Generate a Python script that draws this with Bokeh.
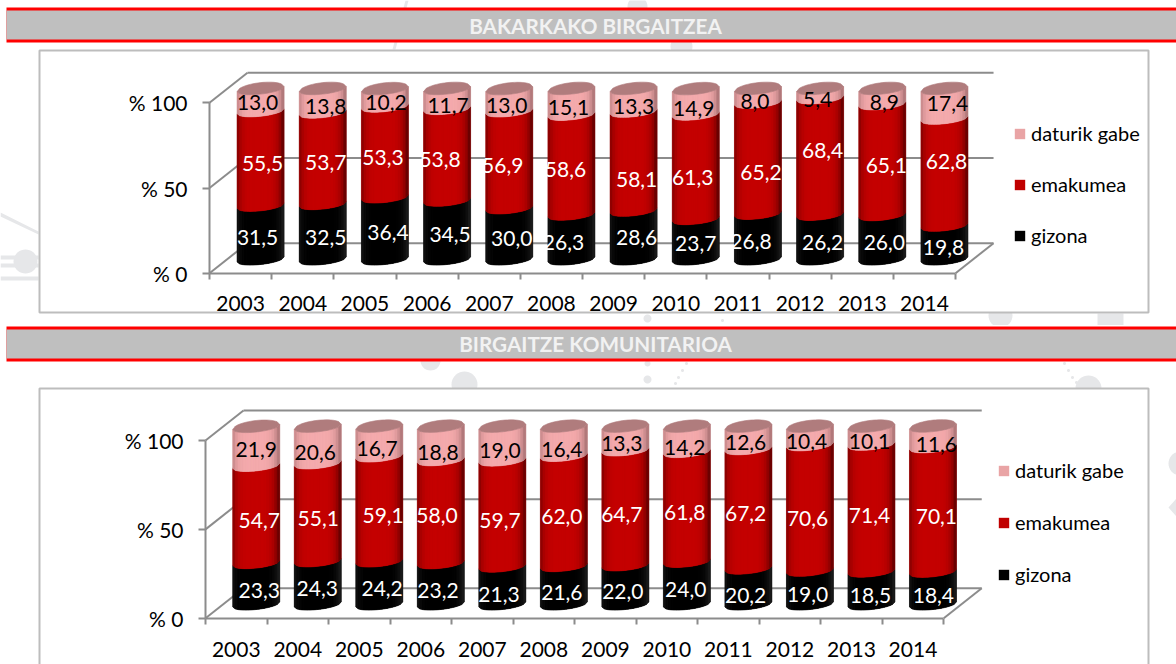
import math
from bokeh.core.properties import value
from bokeh.embed import file_html
from bokeh.layouts import column
from bokeh.models import (BoxAnnotation, ColumnDataSource, FixedTicker, Label, Legend, LegendItem,
                          LinearAxis, PolyAnnotation, Range1d)
from bokeh.plotting import figure
from bokeh.resources import INLINE

years = [2003, 2004, 2005, 2006, 2007, 2008, 2009, 2010, 2011, 2012, 2013, 2014]
series_names = ["gizona", "emakumea", "daturik gabe"]

title_1 = "BAKARKAKO BIRGAITZEA"
gizona_1 = [31.5, 32.5, 36.4, 34.5, 30.0, 26.3, 28.6, 23.7, 26.8, 26.2, 26.0, 19.8]
emakumea_1 = [55.5, 53.7, 53.3, 53.8, 56.9, 58.6, 58.1, 61.3, 65.2, 68.4, 65.1, 62.8]
daturik_1 = [13.0, 13.8, 10.2, 11.7, 13.0, 15.1, 13.3, 14.9, 8.0, 5.4, 8.9, 17.4]

title_2 = "BIRGAITZE KOMUNITARIOA"
gizona_2 = [23.3, 24.3, 24.2, 23.2, 21.3, 21.6, 22.0, 24.0, 20.2, 19.0, 18.5, 18.4]
emakumea_2 = [54.7, 55.1, 59.1, 58.0, 59.7, 62.0, 64.7, 61.8, 67.2, 70.6, 71.4, 70.1]
daturik_2 = [21.9, 20.6, 16.7, 18.8, 19.0, 16.4, 13.3, 14.2, 12.6, 10.4, 10.1, 11.6]

# Label nudges in pixels (the source chart's hand-placed data labels)
nudge_1 = {
    "dx": [[-3, 3, 3, 3, 2.5, -8, 3, 0, -7, 2.5, 2, -1],
           [2, 3, -2, -7, -6.5, -6, 3, -3, 3, 2.5, 4, 2],
           [-3, 3, 1, 1, -2.5, -3, 0, -2, -3, -2.5, 2, 3]],
    "dy": [[4.8, 5.7, 4, 4.4, 4.6, 5.4, 2.4, 4.2, 4.8, 5.3, 5.2, 4.9],
           [5, 4, 5.4, 4.6, 5.6, 4.7, 18, 10.6, 14, -6, 5.8, -10.8],
           [2.3, 5.6, 4.5, 6.4, 5.2, 5.5, 6.1, 6.5, 5.6, 5.8, 5.8, -0.4]],
}
nudge_2 = {
    "dx": [[3, -.6, 2.8, -2.8, -3.4, -2, -2.6, -1.2, -2.8, -2.4, -1, .4],
           [3, .4, 3.8, -3.8, -2.4, -2, -3.6, -2.2, -2.8, -2.4, -2, 3.4],
           [0, -2.6, -2.2, -2.8, -2.4, -2, -3.6, -2.2, -2.8, -3.4, -2, 3.4]],
    "dy": [[6.7, 5.6, 5.5, 6.6, 8.9, 7.2, 6.5, 6.3, 9, 6.9, 7.4, 7.3],
           [6, 6, 6.5, 3.8, 6.9, 5.5, 6.6, 5.6, 4.6, 10.5, 7.3, 7],
           [3.1, 7.4, 6.9, 9, 6.8, 8.1, 4.9, 8.1, 4.5, 5.5, 5.7, 7.6]],
}

FONT = "Lato"
AXIS = "#8c8c8c"
WM = "#e6e7e9"
RED = "#ff0000"
GREY = "#bfbfbf"
SHADES = [((0, 0, 0), (26, 26, 26)), ((196, 0, 0), (104, 0, 0)), ((244, 170, 172), (176, 120, 122))]
SWATCH = ["#000000", "#c00000", "#e9a4a5"]
LABEL_COL = ["white", "white", "black"]
TOP_COL = "#b07c7d"
N_STRIPS = 18
W = 1176


def shade(pair, t):
    (r0, g0, b0), (r1, g1, b1) = pair
    k = min(1.0, abs(t + 0.05) ** 5)
    return "#%02x%02x%02x" % (round(r0 + (r1 - r0) * k), round(g0 + (g1 - g0) * k), round(b0 + (b1 - b0) * k))


def disc(cx, cy, r):
    return [(cx + r * math.cos(a * math.pi / 18), cy + r * math.sin(a * math.pi / 18)) for a in range(36)]


def chart(title, series, nudge, fig_top, fig_h, zero_px, px_per, left_px, bin_px,
          base_px, legend_x, legend_y, legend_gap, wm_polys, box, title_y, red_top, x_standoff, size=21):
    x0 = years[0] - 0.5
    x1 = years[-1] + 0.5
    p = figure(width=W, height=fig_h, output_backend="svg", toolbar_location=None,
               x_range=Range1d(x0 - left_px / bin_px, x0 + (W - left_px) / bin_px),
               y_range=Range1d((zero_px - fig_top - fig_h) / px_per, (zero_px - fig_top) / px_per),
               x_axis_location=None, y_axis_location=None, min_border=0,
               background_fill_color="white", border_fill_color="white", outline_line_color=None)
    p.xgrid.visible = False
    p.ygrid.visible = False

    for poly in wm_polys:
        p.add_layout(PolyAnnotation(xs=[a for a, _ in poly], ys=[b - fig_top for _, b in poly],
                                    xs_units="canvas", ys_units="canvas", fill_color=WM, fill_alpha=1,
                                    line_color=None, level="underlay"))
    canvas = dict(left_units="canvas", right_units="canvas", top_units="canvas", bottom_units="canvas",
                  fill_alpha=1, level="underlay")
    p.add_layout(BoxAnnotation(left=box[0], right=box[1], top=box[2] - fig_top, bottom=box[3] - fig_top,
                               fill_color="white", line_color="#bdbdbd", line_alpha=1, line_width=2, **canvas))
    p.add_layout(BoxAnnotation(left=6, right=W, top=red_top - fig_top, bottom=red_top + 35 - fig_top,
                               fill_color=RED, line_color=None, **canvas))
    p.add_layout(BoxAnnotation(left=6, right=W, top=red_top + 3 - fig_top, bottom=red_top + 32 - fig_top,
                               fill_color=GREY, line_color=None, **canvas))
    p.add_layout(Label(x=595, y=title_y - fig_top, x_units="canvas", y_units="canvas", text=title,
                       text_align="center", text_baseline="middle", text_color="#f2f2f2",
                       text_font=FONT, text_font_size="20.7px", text_font_style="bold"))

    # walls of the 3-D box
    dx_wall = 38 / bin_px
    dy_wall = 30 / px_per
    levels = [0, 50, 100]
    p.multi_line(xs=[[x0 + dx_wall, x1 + dx_wall] for _ in levels],
                 ys=[[v + dy_wall, v + dy_wall] for v in levels], line_color=AXIS, line_width=2)
    p.multi_line(xs=[[x0, x0 + dx_wall] for _ in levels] + [[x1, x1 + dx_wall]],
                 ys=[[v, v + dy_wall] for v in levels] + [[0, dy_wall]], line_color=AXIS, line_width=2)

    # cylinders
    half = 23.5 / bin_px
    off = 20 / bin_px
    base = (zero_px - base_px) / px_per
    semi = 5.0 / px_per
    semi_top = 6.5 / px_per
    tilt = 2.5 / px_per
    def arc(y0, t):
        return y0 + tilt * t - semi * math.sqrt(max(0.0, 1 - t * t))
    def top_arc(y0, t):
        return y0 + tilt * t + semi_top * math.sqrt(max(0.0, 1 - t * t))

    ts = [-1 + 2 * i / N_STRIPS for i in range(N_STRIPS + 1)]
    legend_items = []
    for k, vals in enumerate(series):
        lows = [base + sum(series[j][i] for j in range(k)) for i in range(len(years))]
        highs = [lo + v for lo, v in zip(lows, vals)]
        xs_b, ys_b = [], []
        xs_s, ys_s, cols = [], [], []
        for i, yr in enumerate(years):
            c = yr + off
            xs_b.append([c + half * t for t in ts] + [c + half * t for t in reversed(ts)])
            ys_b.append([arc(lows[i], t) for t in ts] + [arc(highs[i], t) for t in reversed(ts)])
            for a, b in zip(ts[:-1], ts[1:]):
                xs_s.append([c + half * a, c + half * b, c + half * b, c + half * a])
                ys_s.append([arc(lows[i], a), arc(lows[i], b), arc(highs[i], b), arc(highs[i], a)])
                cols.append(shade(SHADES[k], (a + b) / 2))
        base_r = p.patches(xs_b, ys_b, fill_color=SWATCH[k], line_color=None)
        p.patches(xs_s, ys_s, fill_color=cols, line_color=cols, line_width=0.6)
        legend_items.append(LegendItem(label=series_names[k], renderers=[base_r]))
    tops = [base + sum(s[i] for s in series) for i in range(len(years))]
    p.patches([[yr + off + half * t for t in ts] + [yr + off + half * t for t in reversed(ts)] for yr in years],
              [[arc(y, t) for t in ts] + [top_arc(y, t) for t in reversed(ts)] for y in tops],
              fill_color=TOP_COL, line_color=TOP_COL, line_width=0.6)

    # data labels
    for k, vals in enumerate(series):
        lows = [base + sum(series[j][i] for j in range(k)) for i in range(len(years))]
        src = ColumnDataSource(dict(
            x=[yr + off for yr in years], y=[lo + v / 2 for lo, v in zip(lows, vals)],
            t=[f"{v:.1f}".replace(".", ",") for v in vals], xo=nudge["dx"][k], yo=nudge["dy"][k]))
        p.text("x", "y", text="t", x_offset="xo", y_offset="yo", source=src, text_align="center",
               text_baseline="middle", text_color=LABEL_COL[k], text_font=value(FONT), text_font_size=f"{size}px")

    # axes, fixed on the front edge of the box
    ya = LinearAxis(fixed_location=x0, ticker=FixedTicker(ticks=levels),
                    major_label_overrides={v: f"% {v}" for v in levels}, bounds=(0, 100),
                    axis_line_color=AXIS, axis_line_width=2, major_tick_line_color=AXIS, major_tick_line_width=2,
                    major_tick_out=7, major_tick_in=0, minor_tick_line_color=None, major_label_standoff=15,
                    major_label_text_font=FONT, major_label_text_font_size=f"{size}px", major_label_text_color="black")
    p.add_layout(ya, "left")
    xa = LinearAxis(fixed_location=0,
                    ticker=FixedTicker(ticks=years, minor_ticks=[y - 0.5 for y in years] + [years[-1] + 0.5]),
                    major_label_overrides={y: str(y) for y in years}, bounds=(x0, x1),
                    axis_line_color=AXIS, axis_line_width=2, major_tick_line_color=None, major_tick_out=0,
                    major_tick_in=0, minor_tick_line_color=AXIS, minor_tick_line_width=2, minor_tick_out=6,
                    minor_tick_in=0, major_label_standoff=x_standoff, major_label_text_font=FONT,
                    major_label_text_font_size=f"{size}px", major_label_text_color="black")
    p.add_layout(xa, "below")

    legend = Legend(items=list(reversed(legend_items)),
                    location=(legend_x, fig_top + fig_h - legend_y),
                    background_fill_alpha=0, border_line_color=None, margin=0, padding=0,
                    glyph_width=13, glyph_height=13, label_standoff=5, label_height=20,
                    spacing=legend_gap - 24, label_text_font=FONT, label_text_font_size="20px",
                    label_text_color="black")
    p.add_layout(legend, "center")
    return p


wm_top = [
    disc(25, 261, 12),
    [(0, 255), (38, 255), (38, 259), (0, 259)],
    [(0, 263), (38, 263), (38, 267), (0, 267)],
    [(0, 276), (38, 276), (38, 280), (0, 280)],
    [(0, 212), (38, 231), (38, 234), (0, 216)],
    [(405, 0), (408, 0), (395, 49), (392, 49)],
    disc(637, 6, 10),
    disc(681, 46, 11),
    disc(647, 318, 4),
    disc(1000, 315, 12),
    [(1097, 313), (1123, 313), (1123, 325), (1097, 325)],
    disc(722, 320, 1.5),
]
wm_bottom = [
    disc(430, 360, 10),
    disc(464, 384, 13),
    disc(647, 363, 3),
    disc(647, 379, 4),
    disc(686, 363, 1.5), disc(682, 370, 1.5), disc(678, 377, 1.5), disc(675, 383, 1.5),
    disc(1064, 363, 1.5), disc(1068, 370, 1.5), disc(1072, 377, 1.5), disc(1076, 382, 1.5),
    disc(1088, 388, 13),
    disc(1180, 463, 12),
    [(1168, 507), (1176, 498), (1176, 516)],
]

p1 = chart(title_1, [gizona_1, emakumea_1, daturik_1], nudge_1, 0, 325, 272.7, 1.704, 209, 62.17,
           259, 1013, 247, 51, wm_top, (39, 1148, 50, 312), 25, 7, 17)
p2 = chart(title_2, [gizona_2, emakumea_2, daturik_2], nudge_2, 325, 339, 617.7, 1.777, 205, 61.52,
           604, 997, 586, 52, wm_bottom, (39, 1148, 388, 700), 343.5, 326, 18)

open("out.html", "w").write(file_html(column(p1, p2, spacing=0), INLINE))
